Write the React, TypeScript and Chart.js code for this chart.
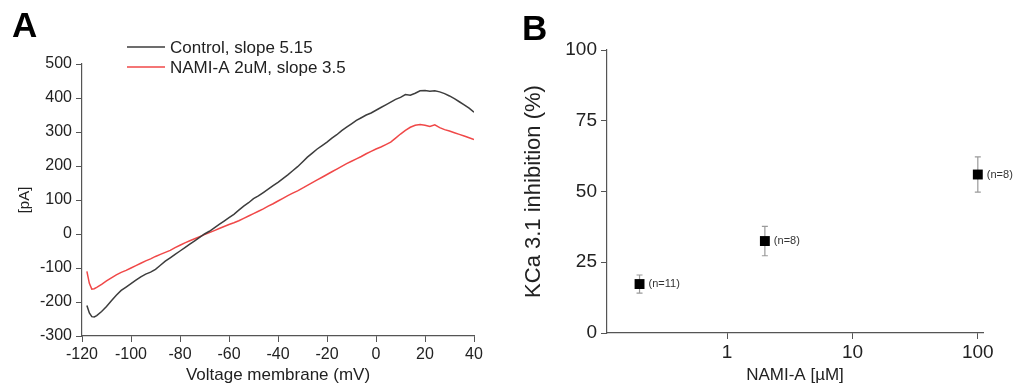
import React, { useEffect, useRef } from "react";
import { Chart, registerables } from "chart.js";

Chart.register(...registerables);

const FONT = "'Liberation Sans', Arial, Helvetica, sans-serif";

// ---------- Panel A : I-V curves ----------
const voltage = [
  -118, -117, -116, -115, -114, -112, -110, -108, -106, -104, -102, -100,
  -98, -96, -94, -92, -90, -88, -86, -84, -82, -80, -78, -76, -74, -72, -70,
  -68, -66, -64, -62, -60, -58, -56, -54, -52, -50, -48, -46, -44, -42, -40,
  -38, -36, -34, -32, -30, -28, -26, -24, -22, -20, -18, -16, -14, -12, -10,
  -8, -6, -4, -2, 0, 2, 4, 6, 8, 10, 12, 14, 16, 18, 20, 22, 24, 26, 28, 30,
  32, 34, 36, 38, 40,
];
const controlCurrent = [
  -210, -232, -243, -244, -240, -228, -213, -196, -180, -166, -156, -146,
  -136, -126, -118, -112, -104, -92, -80, -70, -60, -50, -40, -30, -20, -10, 0,
  8, 18, 28, 38, 48, 58, 70, 82, 92, 104, 112, 122, 132, 142, 152,
  163, 174, 186, 198, 212, 226, 238, 250, 260, 270, 282, 292, 304, 314, 324,
  334, 342, 350, 356, 364, 372, 380, 388, 396, 402, 410, 408, 414, 421, 422, 420, 421, 418, 413, 406,
  398, 389, 380, 370, 358,
];
const namiCurrent = [
  -110, -145, -162, -161, -157, -148, -138, -129, -120, -113, -107, -100,
  -93, -86, -79, -73, -66, -60, -54, -48, -40, -33, -26, -20, -14, -8, -2,
  4, 10, 16, 22, 28, 33, 39, 46, 53, 60, 67, 74, 82, 89, 97,
  105, 113, 120, 127, 135, 143, 151, 159, 167, 175, 183, 191, 199, 207, 214,
  221, 228, 236, 243, 250, 256, 263, 270, 282, 294, 305, 314, 320, 322, 320, 316, 321, 313, 307, 303,
  298, 293, 288, 283, 278,
];
const seriesLabels = ["Control, slope 5.15", "NAMI-A 2uM, slope 3.5"];
const seriesColors = ["#3d3d3d", "#f04848"];
const xRangeA = [-120, 40];
const yRangeA = [-300, 500];

// ---------- Panel B : dose response ----------
const concentrations = [0.2, 2, 100];
const inhibitionMean = [17.3, 32.5, 56.0];
const inhibitionSem = [3.2, 5.2, 6.2];
const nLabels = ["(n=11)", "(n=8)", "(n=8)"];
const xTicksB = [1, 10, 100];
const xRangeB = [0.11, 110];
const yRangeB = [0, 100];

const AXIS = "#555555";
const TEXT = "#222222";

const letterPlugin = (letter: string, x: number, y: number) => ({
  id: "panelLetter" + letter,
  afterDraw(chart: any) {
    const ctx = chart.ctx;
    ctx.save();
    ctx.font = `bold 35px ${FONT}`;
    ctx.fillStyle = "#000";
    ctx.textAlign = "left";
    ctx.textBaseline = "alphabetic";
    ctx.fillText(letter, x, y);
    ctx.restore();
  },
});

const legendPlugin = {
  id: "ivLegend",
  afterDraw(chart: any) {
    const ctx = chart.ctx;
    ctx.save();
    chart.data.datasets.forEach((ds: any, i: number) => {
      const y = 47 + i * 20;
      ctx.strokeStyle = ds.borderColor;
      ctx.lineWidth = 1.5;
      ctx.beginPath();
      ctx.moveTo(127, y);
      ctx.lineTo(165, y);
      ctx.stroke();
      ctx.font = `17px ${FONT}`;
      ctx.fillStyle = TEXT;
      ctx.textAlign = "left";
      ctx.textBaseline = "middle";
      ctx.fillText(ds.label, 170, y + 1);
    });
    ctx.restore();
  },
};

const errorBarPlugin = {
  id: "errorBars",
  beforeDatasetsDraw(chart: any) {
    const ctx = chart.ctx;
    const xs = chart.scales.x;
    const ys = chart.scales.y;
    ctx.save();
    ctx.strokeStyle = "#9a9a9a";
    ctx.lineWidth = 1.2;
    concentrations.forEach((c, i) => {
      const x = xs.getPixelForValue(c);
      const yt = ys.getPixelForValue(inhibitionMean[i] + inhibitionSem[i]);
      const yb = ys.getPixelForValue(inhibitionMean[i] - inhibitionSem[i]);
      ctx.beginPath();
      ctx.moveTo(x, yt);
      ctx.lineTo(x, yb);
      ctx.moveTo(x - 3, yt);
      ctx.lineTo(x + 3, yt);
      ctx.moveTo(x - 3, yb);
      ctx.lineTo(x + 3, yb);
      ctx.stroke();
    });
    ctx.restore();
  },
  afterDatasetsDraw(chart: any) {
    const ctx = chart.ctx;
    const xs = chart.scales.x;
    const ys = chart.scales.y;
    ctx.save();
    ctx.font = `11px ${FONT}`;
    ctx.fillStyle = "#333";
    ctx.textAlign = "left";
    ctx.textBaseline = "middle";
    concentrations.forEach((c, i) => {
      const x = xs.getPixelForValue(c);
      const y = ys.getPixelForValue(inhibitionMean[i]);
      ctx.fillText(nLabels[i], x + 9, y);
    });
    ctx.restore();
  },
};

function axisCommon(fontSize: number, pad: number) {
  return {
    grid: {
      drawOnChartArea: false,
      drawTicks: true,
      tickLength: 6,
      color: AXIS,
      lineWidth: 1,
    },
    border: { display: true, color: AXIS, width: 1.2 },
    ticks: {
      color: TEXT,
      font: { family: FONT, size: fontSize },
      padding: pad,
      autoSkip: false,
      maxRotation: 0,
    },
  };
}

export default function App() {
  const refA = useRef<HTMLCanvasElement>(null);
  const refB = useRef<HTMLCanvasElement>(null);

  useEffect(() => {
    const cA = axisCommon(16, 4);
    const chartA = new Chart(refA.current as HTMLCanvasElement, {
      type: "line",
      data: {
        datasets: [controlCurrent, namiCurrent].map((arr, k) => ({
          label: seriesLabels[k],
          data: voltage.map((v, i) => ({ x: v, y: arr[i] })),
          borderColor: seriesColors[k],
          backgroundColor: seriesColors[k],
          borderWidth: 1.5,
          pointRadius: 0,
          tension: 0,
        })),
      },
      options: {
        animation: false,
        responsive: false,
        devicePixelRatio: 1,
        layout: { padding: { top: 64, right: 26, left: 0, bottom: 0 } },
        plugins: { legend: { display: false }, tooltip: { enabled: false } },
        scales: {
          x: {
            type: "linear",
            min: xRangeA[0],
            max: xRangeA[1],
            ...cA,
            ticks: { ...cA.ticks, stepSize: 20, padding: 3 },
            title: {
              display: true,
              text: "Voltage membrane (mV)",
              color: TEXT,
              font: { family: FONT, size: 17 },
              padding: { top: 0, bottom: 1 },
            },
            afterFit: (s: any) => {
              s.height = 51;
            },
          },
          y: {
            type: "linear",
            min: yRangeA[0],
            max: yRangeA[1],
            ...cA,
            ticks: { ...cA.ticks, stepSize: 100 },
            title: {
              display: true,
              text: "[pA]",
              color: TEXT,
              font: { family: FONT, size: 15 },
              padding: { top: 16, bottom: 0 },
            },
            afterFit: (s: any) => {
              s.width = 82;
            },
          },
        },
      } as any,
      plugins: [legendPlugin, letterPlugin("A", 12, 37)],
    });

    const cB = axisCommon(19, 4);
    const chartB = new Chart(refB.current as HTMLCanvasElement, {
      type: "scatter",
      data: {
        datasets: [
          {
            label: "KCa 3.1 inhibition",
            data: concentrations.map((c, i) => ({ x: c, y: inhibitionMean[i] })),
            pointStyle: "rect",
            pointRadius: 7,
            backgroundColor: "#000",
            borderColor: "#000",
            borderWidth: 0,
          },
        ],
      },
      options: {
        animation: false,
        responsive: false,
        devicePixelRatio: 1,
        layout: { padding: { top: 50, right: 35, left: 0, bottom: 0 } },
        plugins: { legend: { display: false }, tooltip: { enabled: false } },
        scales: {
          x: {
            type: "logarithmic",
            min: xRangeB[0],
            max: xRangeB[1],
            bounds: "data",
            ...cB,
            ticks: {
              ...cB.ticks,
              padding: 2,
              callback: (v: any) => String(v),
            },
            afterBuildTicks: (s: any) => {
              s.ticks = xTicksB.map((v) => ({ value: v, major: true }));
            },
            title: {
              display: true,
              text: "NAMI-A [µM]",
              color: TEXT,
              font: { family: FONT, size: 17 },
              padding: { top: 0, bottom: 1 },
            },
            afterFit: (s: any) => {
              s.height = 54;
            },
          },
          y: {
            type: "linear",
            min: yRangeB[0],
            max: yRangeB[1],
            ...cB,
            ticks: { ...cB.ticks, stepSize: 25 },
            title: {
              display: true,
              text: "KCa 3.1 inhibition (%)",
              color: TEXT,
              font: { family: FONT, size: 22 },
              padding: { top: 21, bottom: 0 },
            },
            afterFit: (s: any) => {
              s.width = 107;
            },
          },
        },
      } as any,
      plugins: [errorBarPlugin, letterPlugin("B", 22, 40)],
    });

    return () => {
      chartA.destroy();
      chartB.destroy();
    };
  }, []);

  return (
    <div
      style={{
        position: "fixed",
        left: 0,
        top: 0,
        width: 1018,
        height: 387,
        background: "#fff",
        overflow: "hidden",
      }}
    >
      <canvas
        ref={refA}
        width={500}
        height={387}
        style={{ position: "absolute", left: 0, top: 0, display: "block" }}
      />
      <canvas
        ref={refB}
        width={518}
        height={387}
        style={{ position: "absolute", left: 500, top: 0, display: "block" }}
      />
    </div>
  );
}
